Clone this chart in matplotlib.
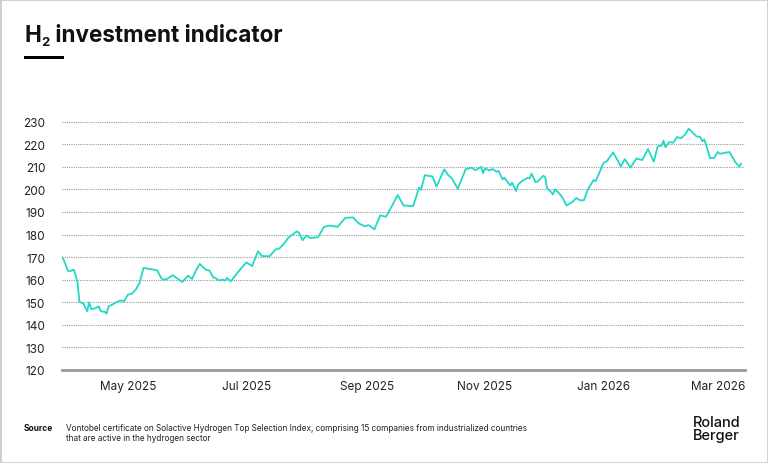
import numpy as np
import matplotlib
matplotlib.use("Agg")
import matplotlib.pyplot as plt
import matplotlib.dates as mdates
from matplotlib.patches import Rectangle

plt.rcParams['font.family'] = ['Inter', 'DejaVu Sans']

# data: days since start date, index level
startDate = np.datetime64('2025-03-28')
dayOffset = [0, 1, 3, 4, 6, 7, 8, 9, 11, 13, 14, 15, 17, 19, 20, 22, 23, 24, 26, 28,
             30, 32, 34, 36, 38, 40, 42, 49, 51, 52, 54, 57, 59, 62, 65, 67, 69, 71, 74, 76,
             78, 79, 81, 83, 84, 85, 87, 89, 91, 95, 98, 101, 103, 107, 110, 112, 114, 117, 121, 122,
             124, 126, 128, 132, 135, 138, 142, 146, 150, 153, 156, 158, 161, 164, 167, 170, 173, 176, 181, 184,
             185, 187, 191, 193, 197, 199, 201, 204, 208, 211, 213, 216, 217, 218, 220, 222, 224, 225, 227, 228,
             229, 231, 232, 234, 235, 237, 240, 241, 242, 244, 245, 248, 249, 250, 252, 253, 254, 256, 258, 260,
             263, 265, 267, 269, 271, 274, 275, 277, 279, 281, 284, 286, 288, 290, 293, 296, 299, 302, 305, 307,
             309, 310, 311, 313, 315, 317, 319, 321, 323, 327, 329, 330, 331, 334, 336, 338, 339, 344, 347, 349,
             350]
indexValue = [170.0, 168.6, 164.0, 163.7, 164.5, 162.0, 158.7, 150.2, 149.4, 146.0, 150.0, 147.0, 147.3, 148.2, 146.0, 145.8, 145.0, 148.2, 149.0, 150.0,
              150.8, 150.5, 153.4, 153.8, 155.6, 158.6, 165.2, 164.2, 161.0, 160.0, 160.3, 162.0, 160.8, 159.0, 161.8, 160.3, 164.0, 167.0, 164.5, 164.0,
              161.0, 160.8, 159.7, 160.0, 159.6, 160.8, 159.3, 161.5, 163.7, 167.7, 166.0, 172.6, 170.5, 170.4, 173.4, 173.8, 175.6, 178.9, 181.4, 181.0,
              177.5, 179.6, 178.4, 178.9, 183.4, 184.0, 183.4, 187.4, 187.6, 184.9, 183.7, 184.2, 182.3, 188.5, 187.9, 192.6, 197.5, 192.9, 192.6, 200.8,
              199.8, 206.3, 205.7, 201.2, 208.9, 206.4, 204.8, 200.3, 208.9, 209.7, 208.5, 210.0, 207.2, 209.3, 208.5, 209.0, 207.8, 208.2, 204.5, 205.2,
              204.0, 201.8, 203.0, 199.3, 202.1, 203.7, 205.1, 204.9, 207.0, 203.3, 203.4, 206.0, 205.6, 200.4, 198.9, 197.8, 200.0, 198.5, 196.3, 192.9,
              194.4, 196.2, 195.2, 195.2, 200.0, 204.2, 203.6, 207.5, 211.6, 212.7, 216.4, 213.4, 210.1, 213.4, 209.7, 213.7, 213.0, 217.9, 212.3, 219.1,
              219.4, 221.6, 218.7, 221.0, 220.7, 223.2, 222.7, 224.2, 226.9, 223.5, 223.2, 221.3, 222.2, 213.9, 213.9, 216.6, 215.8, 216.6, 212.1, 210.1,
              211.4]
yTicks = [120, 130, 140, 150, 160, 170, 180, 190, 200, 210, 220, 230]

dates = startDate + np.array(dayOffset).astype('timedelta64[D]')

fig = plt.figure(figsize=(7.68, 4.64), dpi=100)
fig.patch.set_facecolor('white')

ax = fig.add_axes([62 / 768, 1 - 371 / 464, (745 - 62) / 768, (371 - 118.2) / 464])
ax.plot(dates, indexValue, color='#22d8c6', linewidth=1.3)

ax.set_ylim(120, 232)
ax.set_xlim(startDate, startDate + np.timedelta64(352, 'D'))
ax.set_yticks(yTicks)
ax.xaxis.set_major_locator(mdates.MonthLocator(bymonth=[1, 3, 5, 7, 9, 11]))
ax.xaxis.set_major_formatter(mdates.DateFormatter('%b %Y'))

ax.grid(axis='y', linestyle=(0, (1, 1)), color='#9a9a9a', linewidth=0.8)
ax.set_axisbelow(True)
for side in ['top', 'right', 'left']:
    ax.spines[side].set_visible(False)
ax.spines['bottom'].set_color('#999999')
ax.spines['bottom'].set_linewidth(2)
ax.tick_params(axis='both', length=0, labelsize=8.5, colors='#222222')
ax.tick_params(axis='y', pad=12)
ax.tick_params(axis='x', pad=7)

# title with subscript
fig.canvas.draw()
renderer = fig.canvas.get_renderer()
t1 = fig.text(24 / 768, 1 - 42 / 464, 'H', fontsize=16.2, fontweight='bold', color='#111111', va='baseline')
bb = t1.get_window_extent(renderer)
t2 = fig.text(bb.x1 / 768 + 0.001, 1 - 46 / 464, '2', fontsize=9.5, fontweight='bold', color='#111111', va='baseline')
bb2 = t2.get_window_extent(renderer)
fig.text(bb2.x1 / 768, 1 - 42 / 464, ' investment indicator', fontsize=16.2, fontweight='bold',
         color='#111111', va='baseline')
fig.add_artist(Rectangle((24 / 768, 1 - 60 / 464), 40 / 768, 3 / 464, transform=fig.transFigure,
                         facecolor='black', edgecolor='none'))

# footer
fig.text(24 / 768, 1 - 431 / 464, 'Source', fontsize=6.0, fontweight='bold', color='#111111', va='baseline')
fig.text(66 / 768, 1 - 431 / 464,
         'Vontobel certificate on Solactive Hydrogen Top Selection Index, comprising 15 companies from industrialized countries',
         fontsize=5.9, color='#222222', va='baseline')
fig.text(66 / 768, 1 - 441 / 464, 'that are active in the hydrogen sector', fontsize=5.9, color='#222222', va='baseline')
fig.text(693 / 768, 1 - 427 / 464, 'Roland', fontsize=10.5, fontweight='medium', color='#111111', va='baseline')
fig.text(693 / 768, 1 - 440 / 464, 'Berger', fontsize=10.5, fontweight='medium', color='#111111', va='baseline')

fig.add_artist(Rectangle((0, 0), 1, 1, transform=fig.transFigure, facecolor='none',
                         edgecolor='#cccccc', linewidth=2))

fig.savefig('out.png', dpi=100)
